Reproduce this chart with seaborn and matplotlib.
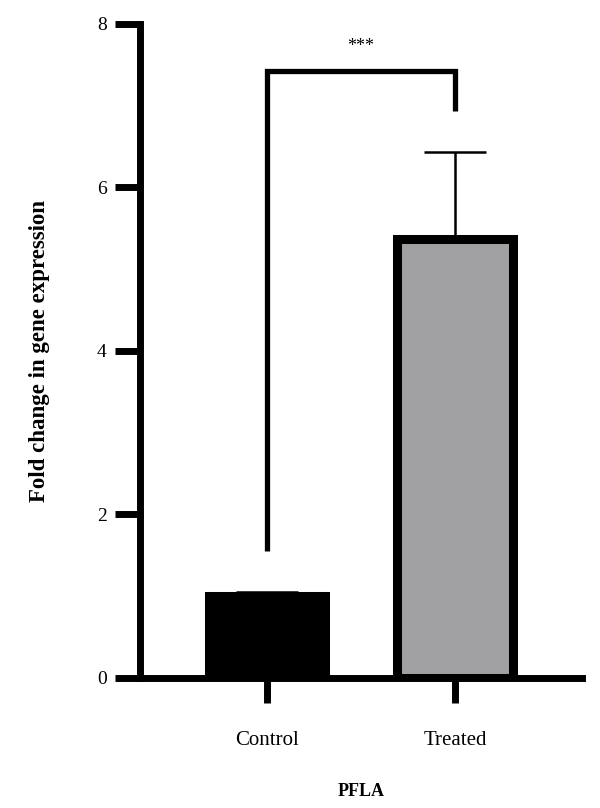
import numpy as np
import pandas as pd
import matplotlib
matplotlib.use("Agg")
import matplotlib.pyplot as plt
import seaborn as sns

# data
groups = ["Control", "Treated"]
means = [1.0, 5.37]
errors = [0.05, 1.07]
bar_colors = ["#000000", "#a1a0a5"]
sig_label = "***"
bracket_heights = [1.55, 7.42, 6.93]  # left leg bottom, top, right leg bottom

sns.set_style("ticks")
plt.rcParams["font.family"] = ["Liberation Serif", "DejaVu Serif"]
plt.rcParams["text.color"] = "black"
plt.rcParams["axes.labelcolor"] = "black"
plt.rcParams["xtick.color"] = "black"
plt.rcParams["ytick.color"] = "black"

df = pd.DataFrame({"group": groups, "fold": means})

fig = plt.figure(figsize=(6, 8.08), dpi=100)
ax = fig.add_axes([0.2333, 0.1609, 0.7367, 0.8094])

sns.barplot(data=df, x="group", y="fold", hue="group", palette=bar_colors,
            width=0.62, edgecolor="black", linewidth=6.5, errorbar=None,
            legend=False, ax=ax, zorder=2)

# error bars (upper only)
ax.errorbar(np.arange(len(groups)), means, yerr=[np.zeros(len(errors)), errors],
            fmt="none", ecolor="black", elinewidth=1.8, capsize=22, capthick=1.8,
            zorder=1)

# significance bracket
ax.plot([0, 0, 1, 1], bracket_heights[:2] + bracket_heights[1:2] + bracket_heights[2:],
        color="black", lw=3.8, solid_joinstyle="miter", solid_capstyle="butt",
        clip_on=False, zorder=3)
ax.text(0.5, bracket_heights[1] + 0.2, sig_label, ha="center", va="bottom", fontsize=13)

ax.set_ylim(0, 8)
ax.set_xlim(-0.676, 1.676)
ax.set_yticks([0, 2, 4, 6, 8])
sns.despine(ax=ax)
for s in ["left", "bottom"]:
    ax.spines[s].set_linewidth(5)
    ax.spines[s].set_color("black")
ax.tick_params(axis="both", length=18, width=5, color="black", labelsize=14,
               left=True, bottom=True)
ax.tick_params(axis="y", pad=6)
ax.tick_params(axis="x", pad=20, labelsize=15)

ax.set_ylabel("Fold change in gene expression", fontsize=16.5, fontweight="bold", labelpad=34)
ax.set_xlabel("PFLA", fontsize=13, fontweight="bold", labelpad=24)

fig.savefig("out.png", dpi=100)
